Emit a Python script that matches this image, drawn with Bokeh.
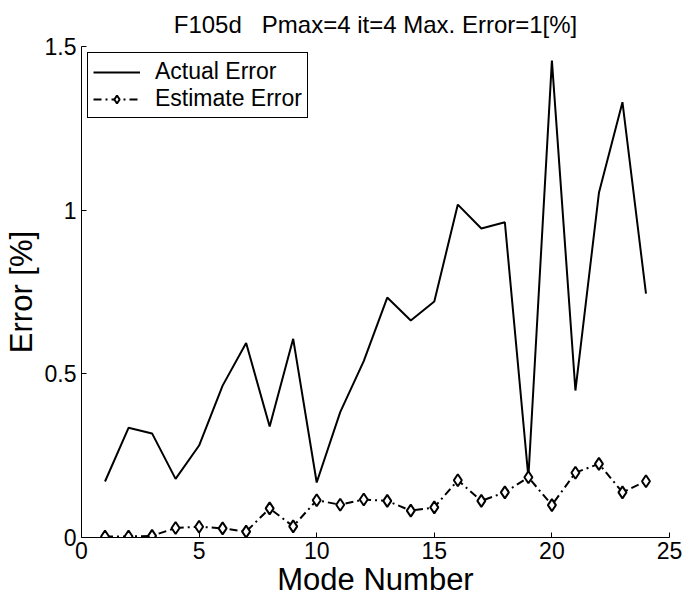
from bokeh.plotting import figure
from bokeh.models import Range1d, FixedTicker, CustomJSTickFormatter
from bokeh.embed import file_html
from bokeh.resources import INLINE

# data
modes = list(range(1, 25))
actual_error = [0.171, 0.335, 0.318, 0.179, 0.281, 0.464, 0.594, 0.339, 0.607, 0.168,
                0.383, 0.539, 0.733, 0.663, 0.721, 1.017, 0.944, 0.963, 0.184, 1.457,
                0.449, 1.053, 1.330, 0.745]
estimate_error = [0.003, 0.003, 0.005, 0.029, 0.033, 0.028, 0.018, 0.089, 0.034, 0.114,
                  0.100, 0.116, 0.112, 0.082, 0.092, 0.175, 0.112, 0.138, 0.184, 0.099,
                  0.198, 0.225, 0.138, 0.172]
x_ticks = [0, 5, 10, 15, 20, 25]
y_ticks = [0, 0.5, 1, 1.5]

FONT = "Liberation Sans"

# bokeh's page template has no body margin, so the figure sits at (0, 0)
p = figure(width=683, height=600, output_backend="svg", toolbar_location=None,
           x_range=Range1d(0, 25), y_range=Range1d(0, 1.5),
           title="F105d\u00a0\u00a0 Pmax=4 it=4 Max. Error=1[%]",
           x_axis_label="Mode Number", y_axis_label="Error [%]",
           min_border_left=81, min_border_right=14, min_border_top=46, min_border_bottom=63)

p.title.align = "center"
p.title.text_font = FONT
p.title.text_font_size = "24px"
p.title.text_font_style = "normal"
p.title.text_color = "black"
p.title.standoff = 17

p.outline_line_color = None
p.grid.visible = False

p.line(modes, actual_error, color="black", line_width=2, legend_label="Actual Error")
p.line(modes, estimate_error, color="black", line_width=2, line_dash="8 4 2 4",
       legend_label="Estimate Error")
p.scatter(modes, estimate_error, marker="diamond", size=12, line_color="black",
          fill_color="white", line_width=2, legend_label="Estimate Error")

for ax in (p.xaxis[0], p.yaxis[0]):
    ax.axis_line_color = "black"
    ax.major_tick_line_color = "black"
    ax.major_tick_in = 5
    ax.major_tick_out = 0
    ax.minor_tick_in = 0
    ax.minor_tick_out = 0
    ax.major_label_text_font = FONT
    ax.major_label_text_font_size = "23px"
    ax.major_label_text_color = "black"
    ax.axis_label_text_font = FONT
    ax.axis_label_text_font_size = "31px"
    ax.axis_label_text_font_style = "normal"
    ax.axis_label_text_color = "black"
    ax.formatter = CustomJSTickFormatter(code="return tick.toString()")

p.xaxis.ticker = FixedTicker(ticks=x_ticks)
p.yaxis.ticker = FixedTicker(ticks=y_ticks)
p.xaxis.major_label_standoff = 4
p.xaxis.axis_label_standoff = 0
p.yaxis.major_label_standoff = 5
p.yaxis.axis_label_standoff = 3

p.legend.location = "top_left"
p.legend.margin = 6
p.legend.padding = 5
p.legend.spacing = 0
p.legend.label_height = 20
p.legend.glyph_height = 20
p.legend.glyph_width = 47
p.legend.label_standoff = 15
p.legend.label_text_font = FONT
p.legend.label_text_font_size = "23px"
p.legend.label_text_color = "black"
p.legend.border_line_color = "black"
p.legend.border_line_width = 1.5
p.legend.border_line_alpha = 1
p.legend.background_fill_alpha = 1

open("out.html", "w").write(file_html(p, INLINE))
